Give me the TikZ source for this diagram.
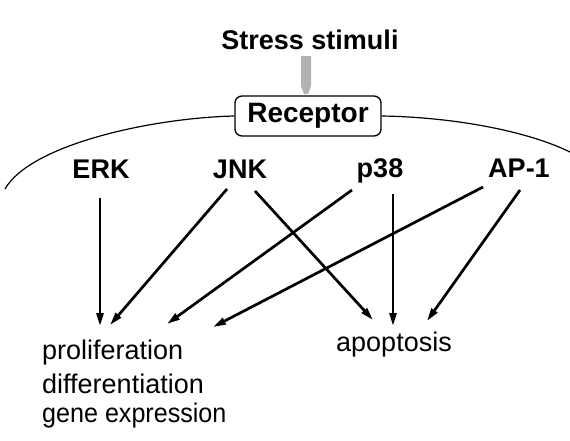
\documentclass[tikz,border=0pt]{standalone}
\usepackage{fontspec}
\setmainfont{Liberation Sans}
\usetikzlibrary{arrows.meta}
\begin{document}
\begin{tikzpicture}[x=1pt,y=-1pt,
  lbl/.style={font=\bfseries\fontsize{27}{27}\selectfont, anchor=base, inner sep=0pt},
  outc/.style={font=\fontsize{27}{27}\selectfont, anchor=base west, inner sep=0pt},
  arr/.style={line width=2.7pt, -{Triangle[length=13pt,width=7pt]}},
  membrane/.style={line width=1.2pt}]
\useasboundingbox (0,0) rectangle (570,440);
% stimulus
\node[lbl] (stress) at (310,49) {Stress stimuli};
\fill[gray!60] (301,56) -- (311,56) -- (311,86) -- (308,94) -- (304,94) -- (301,86) -- cycle;
% receptor
\node[draw, line width=1.3pt, rounded corners=7pt, minimum width=146pt, minimum height=40pt,
      font=\bfseries\fontsize{28}{28}\selectfont, inner sep=0pt] (rec) at (308,116) {Receptor};
% membrane
\draw[membrane] (5,189) .. controls (30,145) and (150,118) .. (rec.west);
\draw[membrane] (rec.east) .. controls (450,117) and (525,130) .. (570,152);
% kinases
\node[lbl] (erk) at (101,178) {ERK};
\node[lbl] (jnk) at (240,178) {JNK};
\node[lbl] (p38) at (380,177) {p38};
\node[lbl] (ap1) at (519,177) {AP-1};
% outcomes
\node[outc] (prol) at (42,359) {proliferation};
\node[outc] (diff) at (42,393) {differentiation};
\node[outc] (gene) at (42,422) {\scalebox{0.93}[1]{gene expression}};
\node[outc] (apop) at (336,351) {apoptosis};
% arrow endpoints
\coordinate (erk-s) at (100,198);
\coordinate (jnk-s1) at (227,189);
\coordinate (jnk-s2) at (255,191);
\coordinate (p38-s1) at (352,190);
\coordinate (p38-s2) at (393,194);
\coordinate (ap1-s1) at (483,187);
\coordinate (ap1-s2) at (520,190);
\coordinate (pr-1) at (100,326);
\coordinate (pr-2) at (110,325);
\coordinate (pr-3) at (167,324);
\coordinate (pr-4) at (213,327);
\coordinate (ap-1) at (373,320);
\coordinate (ap-2) at (393,326);
\coordinate (ap-3) at (427,321);
% arrows
\draw[arr] (erk-s) -- (pr-1);
\draw[arr] (jnk-s1) -- (pr-2);
\draw[arr] (jnk-s2) -- (ap-1);
\draw[arr] (p38-s1) -- (pr-3);
\draw[arr] (p38-s2) -- (ap-2);
\draw[arr] (ap1-s1) -- (pr-4);
\draw[arr] (ap1-s2) -- (ap-3);
\end{tikzpicture}
\end{document}
